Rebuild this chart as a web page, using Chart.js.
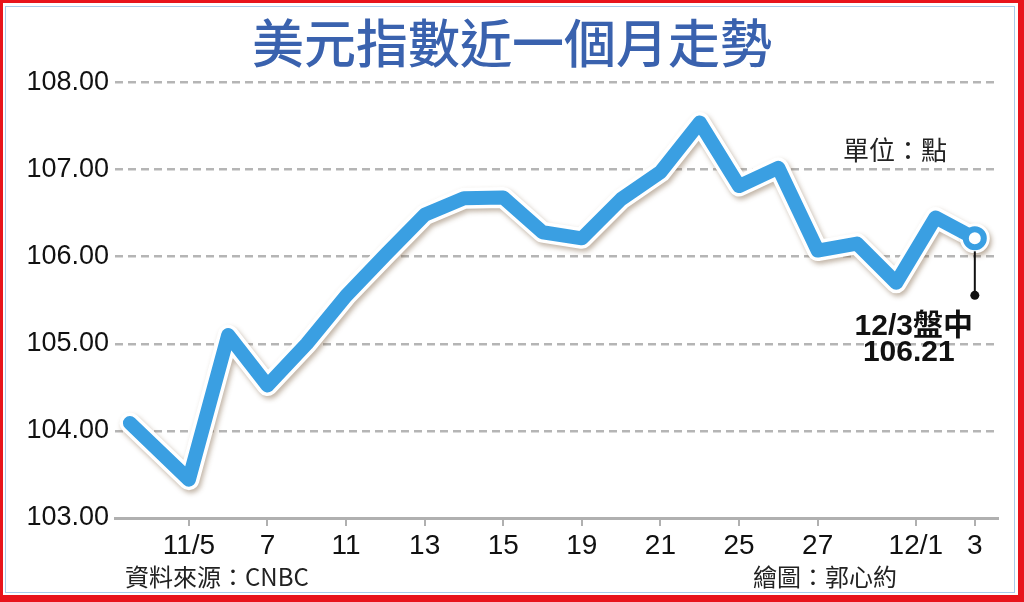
<!DOCTYPE html>
<html lang="zh-Hant">
<head>
    <meta charset="UTF-8">
    <title>美元指數近一個月走勢</title>
    <script src="https://cdn.jsdelivr.net/npm/chart.js"></script>
    <style>
        body { margin: 0; background: #fff; }
        #wrap { position: relative; width: 1024px; height: 602px; }
        #frameOuter {
            position: absolute; inset: 0; box-sizing: border-box;
            border-style: solid; border-color: #e8141c;
            border-width: 3px 6px 7px 3px; pointer-events: none;
        }
        #frameInner {
            position: absolute; left: 5px; top: 6px; right: 9px; bottom: 9px;
            border: 1px solid #a9cbeb; pointer-events: none;
        }
    </style>
</head>
<body>
<div id="wrap">
    <canvas id="dxyChart"></canvas>
    <div id="frameOuter"></div>
    <div id="frameInner"></div>
</div>

<script>
    // trading-day positions (11/5 = 1), DXY closes
    const dayPos = [-0.5, 1, 2, 3, 4, 5, 6, 7, 8, 9, 10, 11, 12, 13, 14, 15, 16, 17, 18, 19, 20, 21];
    const dxyValues = [104.09, 103.44, 105.10, 104.52, 105.00, 105.55, 106.02, 106.48, 106.67, 106.68, 106.28,
                       106.21, 106.66, 106.97, 107.54, 106.81, 107.02, 106.07, 106.15, 105.70, 106.45, 106.21];
    const tickPos = [1, 3, 5, 7, 9, 11, 13, 15, 17, 19.5, 21];
    const tickLabels = ['11/5', '7', '11', '13', '15', '19', '21', '25', '27', '12/1', '3'];
    const lastLabel = '12/3盤中';

    const points = dayPos.map((x, i) => ({ x: x, y: dxyValues[i] }));
    const last = points.length - 1;
    const blue = '#3a9fe2';

    // soft shadow under the white outline
    const shadowPlugin = {
        id: 'shadow',
        beforeDatasetDraw(chart, args) {
            if (args.index !== 1) return;
            const ctx = chart.ctx;
            ctx.save();
            ctx.shadowColor = 'rgba(120, 90, 60, 0.45)';
            ctx.shadowBlur = 5;
            ctx.shadowOffsetX = 2;
            ctx.shadowOffsetY = 3;
        },
        afterDatasetDraw(chart, args) {
            if (args.index !== 1) return;
            chart.ctx.restore();
        }
    };

    // leader line, labels, unit and footer
    const notesPlugin = {
        id: 'notes',
        afterDraw(chart) {
            const ctx = chart.ctx;
            const area = chart.chartArea;
            const pt = chart.getDatasetMeta(0).data[last];
            ctx.save();
            ctx.strokeStyle = '#111';
            ctx.lineWidth = 2;
            ctx.beginPath();
            ctx.moveTo(pt.x, pt.y + 13);
            ctx.lineTo(pt.x, pt.y + 57);
            ctx.stroke();
            ctx.fillStyle = '#111';
            ctx.beginPath();
            ctx.arc(pt.x, pt.y + 57, 4.5, 0, Math.PI * 2);
            ctx.fill();

            ctx.textAlign = 'center';
            ctx.textBaseline = 'middle';
            ctx.font = 'bold 30px "Liberation Sans", "Noto Sans CJK TC", sans-serif';
            ctx.fillText(lastLabel, pt.x - 61, pt.y + 88);
            ctx.fillText(dxyValues[last].toFixed(2), pt.x - 66, pt.y + 114);

            ctx.fillStyle = '#222';
            ctx.font = '26px "Noto Sans CJK TC", sans-serif';
            ctx.fillText('單位：點', area.right - 103, area.top + 68);

            ctx.textAlign = 'left';
            ctx.font = '24px "Noto Sans CJK TC", sans-serif';
            ctx.fillText('資料來源：CNBC', 125, 577);
            ctx.fillText('繪圖：郭心約', 753, 577);
            ctx.restore();
        }
    };

    const ctx = document.getElementById('dxyChart').getContext('2d');
    new Chart(ctx, {
        type: 'line',
        data: {
            datasets: [
                {
                    data: points,
                    borderColor: blue,
                    borderWidth: 14,
                    borderJoinStyle: 'round',
                    borderCapStyle: 'round',
                    pointRadius: points.map((p, i) => i === last ? 9 : 0),
                    pointBackgroundColor: '#fff',
                    pointBorderColor: blue,
                    pointBorderWidth: 6,
                    order: 1
                },
                {
                    data: points,
                    borderColor: '#fff',
                    borderWidth: 21,
                    borderJoinStyle: 'round',
                    borderCapStyle: 'round',
                    pointRadius: points.map((p, i) => i === last ? 15 : 0),
                    pointBackgroundColor: '#fff',
                    pointBorderWidth: 0,
                    order: 2
                }
            ]
        },
        options: {
            responsive: true,
            maintainAspectRatio: false,
            animation: false,
            layout: { padding: 0 },
            plugins: {
                legend: { display: false },
                tooltip: { enabled: false },
                title: {
                    display: true,
                    text: '美元指數近一個月走勢',
                    color: '#3a62ae',
                    font: { family: '"Noto Sans CJK TC", sans-serif', size: 52, weight: 500, lineHeight: 1.2 },
                    padding: { top: 12, bottom: 8 }
                }
            },
            scales: {
                x: {
                    type: 'linear',
                    min: -0.88,
                    max: 21.59,
                    afterBuildTicks: (scale) => {
                        scale.ticks = tickPos.map(v => ({ value: v }));
                    },
                    afterFit: (scale) => { scale.height = 84; },
                    ticks: {
                        autoSkip: false,
                        maxRotation: 0,
                        padding: 3,
                        color: '#111',
                        font: { family: '"Liberation Sans", sans-serif', size: 28 },
                        callback: (value, index) => tickLabels[index]
                    },
                    grid: {
                        drawOnChartArea: false,
                        drawTicks: true,
                        tickLength: 8,
                        color: '#b0b0b0',
                        lineWidth: 2
                    },
                    border: { display: true, color: '#b0b0b0', width: 3 }
                },
                y: {
                    min: 103,
                    max: 108,
                    afterFit: (scale) => { scale.width = 115; },
                    ticks: {
                        stepSize: 1,
                        padding: 6,
                        color: '#111',
                        font: { family: '"Liberation Sans", sans-serif', size: 27 },
                        callback: (value) => value.toFixed(2)
                    },
                    grid: {
                        drawTicks: false,
                        lineWidth: 2.5,
                        color: (c) => c.tick && c.tick.value === 103 ? 'rgba(0,0,0,0)' : '#b5b5b5'
                    },
                    border: { display: false, dash: [8, 5] }
                },
                // empty right margin so the title stays centred on the page
                yRight: {
                    position: 'right',
                    min: 103,
                    max: 108,
                    afterFit: (scale) => { scale.width = 26; },
                    ticks: { display: false },
                    grid: { display: false },
                    border: { display: false }
                }
            }
        },
        plugins: [shadowPlugin, notesPlugin]
    });
</script>
</body>
</html>
